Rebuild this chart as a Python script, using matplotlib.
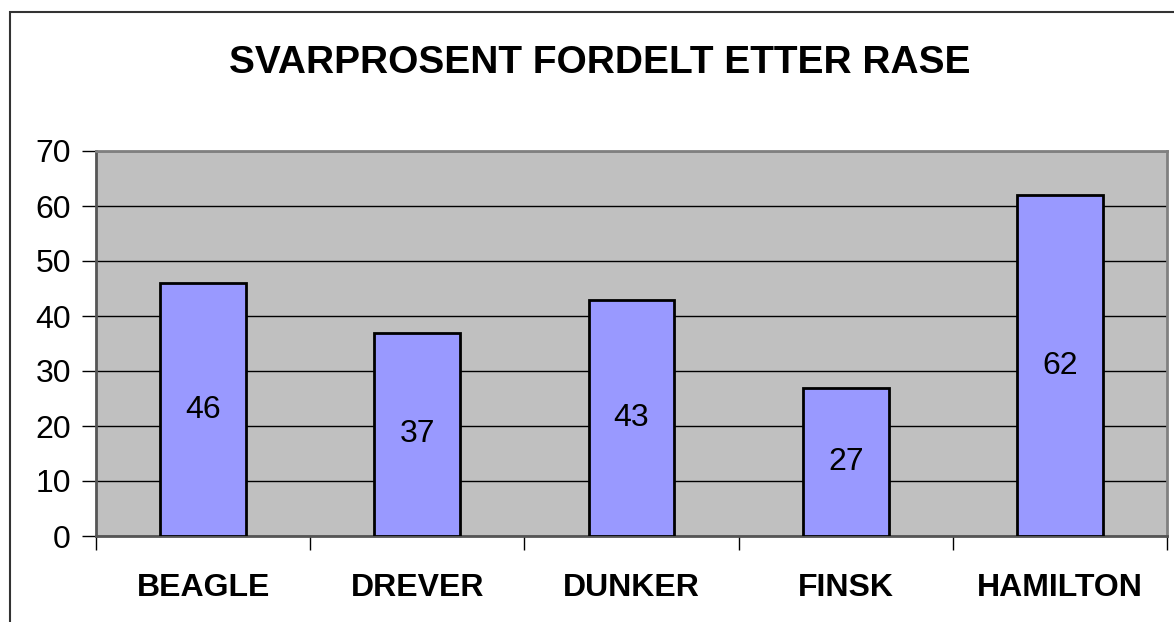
import matplotlib
matplotlib.use("Agg")
import matplotlib.pyplot as plt
import matplotlib.patches as patches
import numpy as np

plt.rcParams['font.family'] = ['Liberation Sans', 'DejaVu Sans']

# data
breeds = ['BEAGLE', 'DREVER', 'DUNKER', 'FINSK', 'HAMILTON']
svarprosent = [46, 37, 43, 27, 62]
title = 'SVARPROSENT FORDELT ETTER RASE'

W, H = 1174, 622
fig = plt.figure(figsize=(W / 100, H / 100), dpi=100)

# outer chart frame: only left and top edges fall inside the picture
frame = patches.Rectangle((9.5 / W, -0.1), 1.2, 1.1 - 12 / H,
                          transform=fig.transFigure, fill=False,
                          edgecolor='#333333', linewidth=1.5, clip_on=False)
fig.patches.append(frame)

ax = fig.add_axes([96 / W, 1 - 536 / H, (1167 - 96) / W, (536 - 151) / H])
ax.set_facecolor('#C0C0C0')

x = np.arange(len(breeds))
bars = ax.bar(x, svarprosent, width=0.4, color='#9999FF',
              edgecolor='black', linewidth=2, zorder=3)

for b, v in zip(bars, svarprosent):
    ax.text(b.get_x() + b.get_width() / 2, v / 2, str(v),
            ha='center', va='center', fontsize=23, zorder=4)

ax.set_xlim(-0.5, len(breeds) - 0.5)
ax.set_ylim(0, 70)
ax.set_yticks(range(0, 71, 10))
ax.yaxis.grid(True, color='black', linewidth=1, zorder=1)
ax.set_axisbelow(True)

# category labels centred, tick marks on the boundaries
ax.set_xticks(x)
ax.set_xticklabels(breeds, fontsize=23, fontweight='bold')
ax.tick_params(axis='x', length=0, pad=27)
ax.set_xticks(np.arange(-0.5, len(breeds)), minor=True)
ax.tick_params(axis='x', which='minor', length=10, width=1, color='black')
ax.tick_params(axis='y', labelsize=23, length=10, width=1, color='black', pad=8)

for s in ax.spines.values():
    s.set_color('#808080')
    s.set_linewidth(2)
ax.spines['left'].set_color('#555555')
ax.spines['bottom'].set_color('#555555')

fig.text(600 / W, 1 - 63 / H, title, ha='center', va='center',
         fontsize=28, fontweight='bold')

fig.savefig('out.png', dpi=100, facecolor='white')
